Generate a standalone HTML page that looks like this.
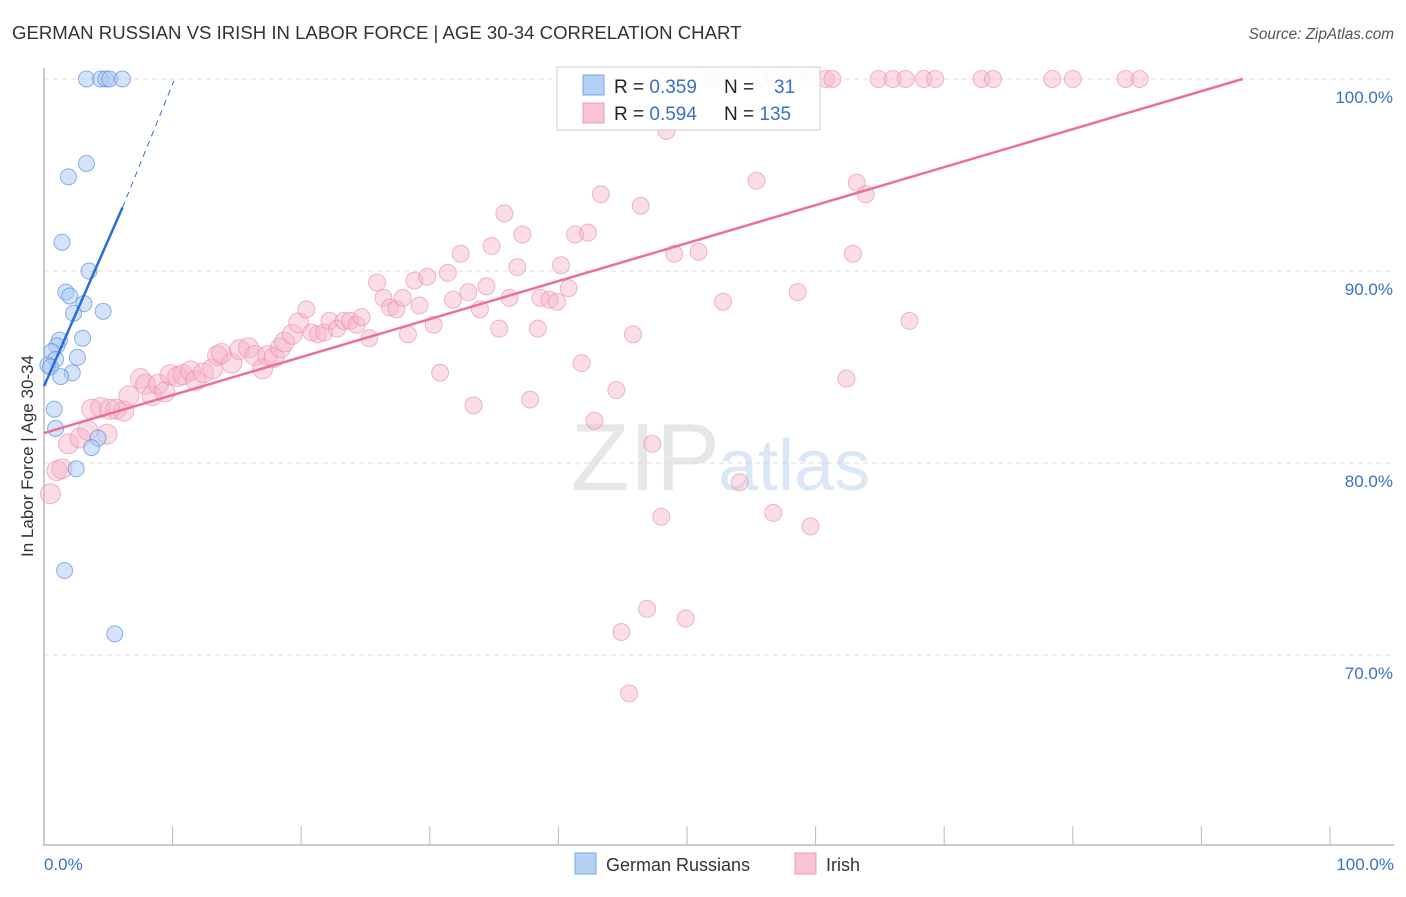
<!DOCTYPE html>
<html><head><meta charset="utf-8"><style>
body{margin:0;background:#fff;font-family:"Liberation Sans",sans-serif}
svg text{font-family:"Liberation Sans",sans-serif}
</style></head><body>
<svg id="chart" width="1406" height="892" xmlns="http://www.w3.org/2000/svg">
<text x="12" y="39" font-size="18.6" fill="#333">GERMAN RUSSIAN VS IRISH IN LABOR FORCE | AGE 30-34 CORRELATION CHART</text>
<text x="1394" y="39" font-size="15.3" fill="#555" text-anchor="end" font-style="italic">Source: ZipAtlas.com</text>
<g id="grid"></g>
<text x="720" y="490" font-size="96" fill="#ddd" font-family="Liberation Serif" text-anchor="end" opacity="0.7">ZIP</text>
<text x="718" y="490" font-size="72" fill="#b8d0ee" opacity="0.5">atlas</text>
<line x1="44" y1="68" x2="44" y2="846" stroke="#bbb" stroke-width="1.5"/>
<line x1="44" y1="845" x2="1394" y2="845" stroke="#bbb" stroke-width="1.5"/>
<g id="ticks"></g>
<text transform="translate(33,456) rotate(-90)" font-size="17" fill="#333" text-anchor="middle">In Labor Force | Age 30-34</text>
<text x="44" y="870" font-size="17" fill="#3a70c8">0.0%</text>
<text x="1394" y="870" font-size="17" fill="#3a70c8" text-anchor="end">100.0%</text>
<g id="pink"></g>
<g id="blue"></g>
<g id="lines"></g>
<g>
<rect x="557" y="67" width="263" height="63" fill="#fff" fill-opacity="0.9" stroke="#ccc"/>
<rect x="583" y="75" width="21" height="20" fill="#b5d0f5" stroke="#7aa6e6"/>
<rect x="583" y="103" width="21" height="20" fill="#f9c3d3" stroke="#eb9cb6"/>
<text x="614" y="93" font-size="19" fill="#222">R = <tspan fill="#3a70c8">0.359</tspan></text>
<text x="724" y="93" font-size="19" fill="#222">N = <tspan fill="#3a70c8" x="774">31</tspan></text>
<text x="614" y="120" font-size="19" fill="#222">R = <tspan fill="#3a70c8">0.594</tspan></text>
<text x="724" y="120" font-size="19" fill="#222">N = <tspan fill="#3a70c8">135</tspan></text>
</g>
<g>
<rect x="575" y="853" width="21" height="21" fill="#b5d0f5" stroke="#7aa6e6"/>
<text x="606" y="871" font-size="18" fill="#333">German Russians</text>
<rect x="795" y="853" width="21" height="21" fill="#f9c3d3" stroke="#eb9cb6"/>
<text x="826" y="871" font-size="18" fill="#333">Irish</text>
</g>
</svg>
<script>
const yTicks=[100,90,80,70];
const yTickLabels=["100.0%","90.0%","80.0%","70.0%"];
const blueX=[3.3,4.4,4.8,5.1,6.1,3.3,1.9,1.4,3.5,1.7,2.0,3.1,2.3,4.6,3.0,1.2,1.0,0.6,2.6,0.9,0.3,0.5,2.2,1.3,0.8,0.9,4.2,3.7,2.5,1.6,5.5];
const blueY=[100,100,100,100,100,95.6,94.9,91.5,90,88.9,88.7,88.3,87.8,87.9,86.5,86.4,86.1,85.8,85.5,85.4,85.1,85.0,84.7,84.5,82.8,81.8,81.3,80.8,79.7,74.4,71.1];
const pinkX=[0.5,1.0,1.4,1.9,2.8,3.4,3.7,4.4,4.9,5.6,6.2,5.1,6.6,7.5,7.9,8.4,8.9,9.4,9.8,10.4,10.8,11.4,11.8,12.4,13.1,13.5,13.8,14.6,15.2,15.9,16.4,17.0,17.4,17.9,18.4,18.7,19.3,19.8,20.4,20.8,21.3,21.8,22.2,22.8,23.3,23.8,24.3,24.7,25.3,25.9,26.4,26.9,27.4,27.9,28.3,28.8,29.2,29.8,30.3,30.8,31.4,31.8,32.4,33.0,33.4,33.9,34.4,34.8,35.4,35.8,36.2,36.8,37.2,37.8,38.4,38.6,39.3,39.9,40.2,40.8,41.3,41.8,42.3,42.8,43.3,44.5,44.9,45.5,45.8,46.4,46.9,47.3,48.0,49.0,49.9,50.9,52.8,54.1,55.4,56.7,58.6,59.6,62.4,62.9,63.2,63.9,67.3,48.4,51.5,52.3,55.7,56.8,58.2,59.4,60.8,61.3,64.9,66.0,67.0,68.4,69.3,72.9,73.8,78.4,80.0,84.1,85.2];
const pinkY=[78.4,79.6,79.7,81.0,81.3,81.7,82.8,82.9,81.5,82.8,82.7,82.8,83.5,84.4,84.1,83.5,84.1,83.7,84.6,84.5,84.6,84.8,84.3,84.7,84.9,85.6,85.7,85.2,85.9,86.0,85.6,84.9,85.6,85.5,86.0,86.3,86.7,87.3,88.0,86.8,86.7,86.8,87.4,87.0,87.4,87.4,87.2,87.6,86.5,89.4,88.6,88.1,88.0,88.6,86.7,89.5,88.2,89.7,87.2,84.7,89.9,88.5,90.9,88.9,83.0,88.0,89.2,91.3,87.0,93.0,88.6,90.2,91.9,83.3,87.0,88.6,88.5,88.4,90.3,89.1,91.9,85.2,92.0,82.2,94.0,83.8,71.2,68.0,86.7,93.4,72.4,81.0,77.2,90.9,71.9,91.0,88.4,79.0,94.7,77.4,88.9,76.7,84.4,90.9,94.6,94.0,87.4,97.3,100,100,100,100,100,100,100,100,100,100,100,100,100,100,100,100,100,100,100];
const blueTrend=[[0,84.0],[6.1,93.3],[10.1,99.9]];
const pinkTrend=[[0,81.56],[93.2,100]];
const sx=v=>44+v*12.86, sy=v=>79+(100-v)*19.2;
const NS="http://www.w3.org/2000/svg";
function mk(t,a,p){const e=document.createElementNS(NS,t);for(const k in a)e.setAttribute(k,a[k]);p.appendChild(e);return e;}
const grid=document.getElementById('grid');
yTicks.forEach((t,i)=>{
  const l=mk('line',{x1:44,x2:1394,y1:sy(t),y2:sy(t),stroke:'#ddd','stroke-dasharray':'5,4'},grid);
  
  
  const tx=mk('text',{x:1393,y:sy(t)+24,'font-size':17,fill:'#3a70c8','text-anchor':'end'},grid);
  tx.textContent=yTickLabels[i];
  
  
});
const ticks=document.getElementById('ticks');
for(let i=1;i<=10;i++){
  const l=mk('line',{x1:sx(i*10),x2:sx(i*10),y1:826,y2:845,stroke:'#bbb'},ticks);
  
  
}
const pg=document.getElementById('pink');
pinkX.forEach((x,i)=>{
  const c=mk('circle',{cx:sx(x),cy:sy(pinkY[i]),r:x<20?10:8.5,fill:'#f7b3c7','fill-opacity':0.45,stroke:'#e98aaa','stroke-opacity':0.6},pg);
  
  
});
const bg=document.getElementById('blue');
blueX.forEach((x,i)=>{
  const c=mk('circle',{cx:sx(x),cy:sy(blueY[i]),r:8,fill:'#a8c7f3','fill-opacity':0.5,stroke:'#5e92dc','stroke-opacity':0.7},bg);
  
  
});
const lg=document.getElementById('lines');
const b1=mk('line',{x1:sx(blueTrend[0][0]),y1:sy(blueTrend[0][1]),x2:sx(blueTrend[1][0]),y2:sy(blueTrend[1][1]),stroke:'#2a6dd8','stroke-width':2.5},lg);


const b2=mk('line',{x1:sx(blueTrend[1][0]),y1:sy(blueTrend[1][1]),x2:sx(blueTrend[2][0]),y2:sy(blueTrend[2][1]),stroke:'#2a6dd8','stroke-width':1,'stroke-dasharray':'6,5'},lg);


const p1=mk('line',{x1:sx(pinkTrend[0][0]),y1:sy(pinkTrend[0][1]),x2:sx(pinkTrend[1][0]),y2:sy(pinkTrend[1][1]),stroke:'#e8709a','stroke-width':2.5},lg);


</script>
</body></html>
